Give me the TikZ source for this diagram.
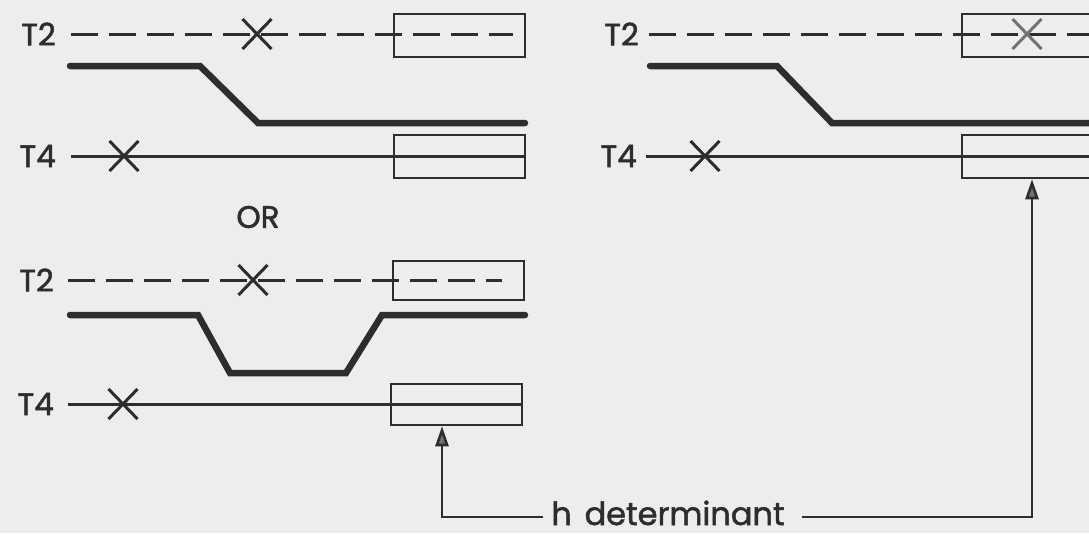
\documentclass[tikz,border=0pt]{standalone}
\usepackage{fontspec}
\setmainfont{Poppins}[FakeBold=1.6]
\usetikzlibrary{arrows.meta,shapes.misc}
\definecolor{paper}{RGB}{237,237,235}
\definecolor{ink}{RGB}{45,45,45}
\definecolor{soft}{RGB}{115,115,115}
\begin{document}
\begin{tikzpicture}[x=1pt,y=-1pt,
  lbl/.style={font=\fontsize{31}{31}\selectfont, text=ink, inner sep=0pt},
  caption/.style={font=\fontsize{32}{32}\selectfont, text=ink, inner sep=0pt},
  wire/.style={draw=ink, line width=3pt},
  dashwire/.style={wire, dash pattern=on 27pt off 11pt},
  level/.style={draw=ink, line width=6.5pt, line join=miter, line cap=round},
  gate/.style={draw=ink, line width=2.5pt, minimum width=131pt, minimum height=43pt, inner sep=0pt},
  xmark/.style={cross out, draw=ink, line width=3pt, minimum width=26pt, minimum height=27pt, inner sep=0pt},
  pointer/.style={draw=ink, line width=2.6pt, -{Triangle[length=20pt,width=13pt,fill=soft]}},
]
\clip (0,0) rectangle (1089,533);
\fill[paper] (0,0) rectangle (1089,533);

% ---- upper left: single step ----
\node[lbl, anchor=east] (a2) at (56,34) {T2};
\coordinate (a2s) at (71,34);
\coordinate (a2e) at (513,34);
\draw[dashwire] (a2s) -- (a2e);
\node[gate] (ga2) at (459.5,35.5) {};
\node[xmark] (xa2) at (257,34) {};
\draw[level] (70,66) -- (200,66) -- (258,123) -- (525,123);
\node[lbl, anchor=east] (a4) at (56,156) {T4};
\coordinate (a4s) at (71,156);
\coordinate (a4e) at (525,156);
\draw[wire] (a4s) -- (a4e);
\node[gate] (ga4) at (459.5,156.5) {};
\node[xmark] (xa4) at (124,156) {};

\node[lbl] (or) at (258,217) {OR};

% ---- lower left: dip and return ----
\node[lbl, anchor=east] (b2) at (54,280) {T2};
\coordinate (b2s) at (68,280);
\coordinate (b2e) at (502,280);
\draw[dashwire] (b2s) -- (b2e);
\node[gate, minimum height=39pt] (gb2) at (458.5,280.5) {};
\node[xmark] (xb2) at (253,280) {};
\draw[level] (70,315) -- (198,315) -- (230,373) -- (346,373) -- (382,315) -- (525,315);
\node[lbl, anchor=east] (b4) at (54,404) {T4};
\coordinate (b4s) at (68,404);
\coordinate (b4e) at (522,404);
\draw[wire] (b4s) -- (b4e);
\node[gate, minimum height=41pt] (gb4) at (456.5,404.5) {};
\node[xmark] (xb4) at (123,404) {};

% ---- right: step with the cross inside the window ----
\node[lbl, anchor=east] (c2) at (639,34) {T2};
\coordinate (c2s) at (649,34);
\coordinate (c2e) at (1100,34);
\draw[dashwire] (c2s) -- (c2e);
\node[gate] (gc2) at (1027.5,35.5) {};
\node[xmark, draw=soft] (xc2) at (1027,34) {};
\draw[level] (650,66) -- (777,66) -- (832,123) -- (1100,123);
\node[lbl, anchor=east] (c4) at (637,156) {T4};
\coordinate (c4s) at (646,156);
\coordinate (c4e) at (1100,156);
\draw[wire] (c4s) -- (c4e);
\node[gate] (gc4) at (1027.5,156.5) {};
\node[xmark] (xc4) at (705,156) {};

% ---- label and pointers ----
\node[caption, anchor=base] (h) at (668,525) {h\hspace{0.4em}determinant};
\coordinate (hl) at (543,517);
\coordinate (hr) at (802,517);
\draw[pointer] (hl) -| ([xshift=-14.5pt]gb4.south);
\draw[pointer] (hr) -| ([xshift=4.5pt]gc4.south);
\end{tikzpicture}
\end{document}
